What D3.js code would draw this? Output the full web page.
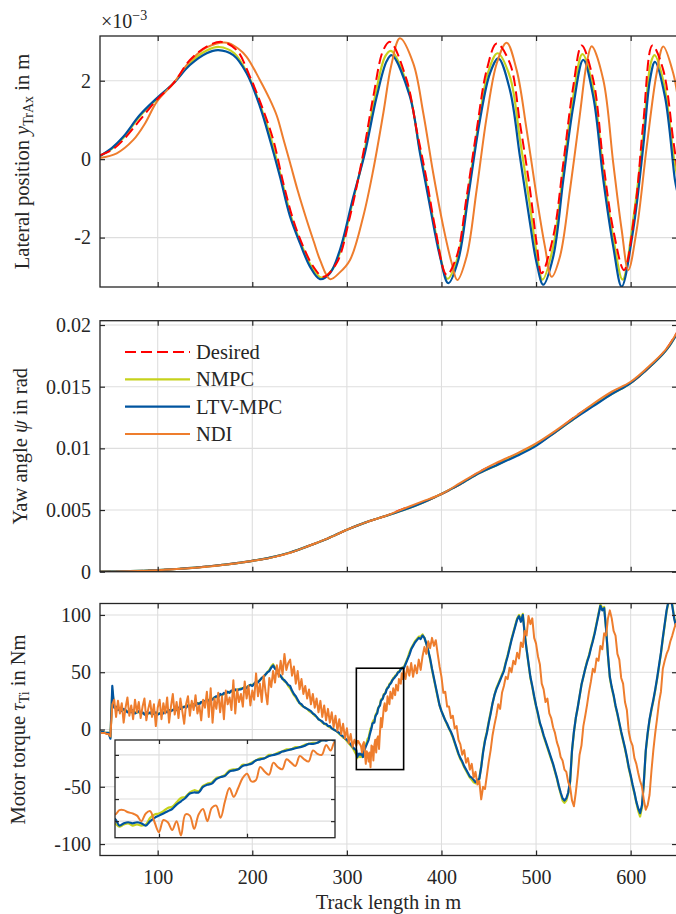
<!DOCTYPE html>
<html><head><meta charset="utf-8">
<script src="https://cdn.jsdelivr.net/npm/d3@7"></script>
<style>
body{margin:0;background:#fff}
svg{display:block}
text{font-family:"Liberation Serif","Times New Roman",serif;fill:#262626}
.tick text{font-size:20px}
</style>
</head><body>
<svg id="c" width="676" height="914"></svg>
<script>
// ---------------- DATA ----------------
const seriesNames = ["Desired", "NMPC", "LTV-MPC", "NDI"];
const xTicks = [100, 200, 300, 400, 500, 600];
const latTicks = [-2, 0, 2];
const latTickLabels = ["-2", "0", "2"];
const yawTicks = [0, 0.005, 0.01, 0.015, 0.02];
const yawTickLabels = ["0", "0.005", "0.01", "0.015", "0.02"];
const torqueTicks = [-100, -50, 0, 50, 100];
const torqueTickLabels = ["-100", "-50", "0", "50", "100"];
const insetXTicks = [320, 340];
const insetYTicks = [-20, 0, 20, 40];

// Lateral position (x1e-3 m) : [track length, value]
const latDesired = [[39,0.10],[51.4,0.23],[63.6,0.49],[81.3,1.0],[98.9,1.51],[116.5,1.93],[134.1,2.53],[151.8,2.87],[167.7,2.99],[183.5,2.78],[197.6,2.1],[211.6,1.25],[222.2,0.49],[232.8,-0.61],[243.3,-1.55],[253.9,-2.23],[264.5,-2.74],[275,-3.0],[289.2,-2.65],[303.3,-1.46],[317.3,0.15],[327.9,1.59],[338.5,2.78],[345.6,2.99],[363.2,2.02],[373.8,0.74],[384.4,-0.53],[393.1,-1.72],[405.5,-2.95],[416.1,-2.48],[426.6,-0.96],[437.2,0.74],[447.8,2.27],[458.4,2.95],[472.4,2.44],[483,0.91],[493.6,-0.78],[500.6,-2.14],[505.9,-2.91],[518.2,-1.97],[528.8,-0.1],[539.3,1.85],[548.2,2.9],[560.5,2.02],[571.1,-0.1],[581.6,-1.8],[593,-2.83],[605,-1.2],[613.3,0.91],[623,2.9],[634.5,2.27],[645,0.49],[649,-0.2]];
const latNMPC = [[39,0.08],[51.4,0.26],[63.6,0.54],[81.3,1.1],[98.9,1.53],[116.5,1.93],[134.1,2.45],[151.8,2.77],[165,2.86],[181,2.7],[195.5,2.15],[209.5,1.3],[220.3,0.49],[231,-0.52],[241.5,-1.5],[252,-2.18],[262.7,-2.74],[273,-3.02],[285,-2.8],[295,-2.2],[305,-1.2],[318.2,0.15],[329.7,1.59],[340.5,2.62],[346.5,2.76],[365,1.8],[375.5,0.45],[386,-0.87],[395.8,-2.1],[406.3,-3.05],[417,-2.52],[427.5,-0.96],[439,0.87],[449.5,2.23],[459.2,2.7],[472.4,2.1],[483,0.5],[493.6,-1.2],[500.6,-2.4],[506.8,-3.07],[518.2,-2.22],[528.8,-0.3],[539.3,1.6],[549,2.68],[560.5,1.8],[571.1,-0.3],[581.6,-2.0],[591.5,-3.07],[603.5,-1.4],[613.3,0.6],[621.3,2.45],[625.3,2.65],[635.4,1.9],[645.9,0],[649,-0.4]];
const latLTV = [[39,0.08],[51.4,0.28],[63.6,0.57],[81.3,1.13],[98.9,1.55],[116.5,1.93],[134.1,2.4],[151.8,2.7],[164,2.78],[179.9,2.65],[194,2.19],[208.1,1.34],[218.7,0.49],[229.3,-0.45],[239.9,-1.46],[250.4,-2.14],[261,-2.74],[271.6,-3.06],[282.1,-2.91],[292.7,-2.31],[306.8,-0.96],[319,0.15],[331.5,1.59],[342.1,2.5],[347.4,2.65],[366.7,1.59],[377.3,0.15],[387.9,-1.21],[398.4,-2.48],[407.2,-3.16],[417.8,-2.57],[428.3,-0.96],[440.7,1.0],[451.3,2.19],[460.1,2.57],[472.4,1.76],[483,0.06],[493.6,-1.63],[500.6,-2.65],[507.6,-3.2],[518.2,-2.48],[528.8,-0.53],[539.3,1.34],[549.9,2.53],[560.5,1.59],[571.1,-0.53],[581.6,-2.23],[590.5,-3.25],[602.7,-1.8],[613.3,0.32],[620.4,2.02],[625.7,2.48],[636.3,1.59],[646.8,-0.53],[649,-0.8]];
const latNDI = [[39,0.03],[56.7,0.15],[74.2,0.49],[86.6,0.91],[99,1.46],[116.5,1.93],[134.1,2.5],[151.8,2.85],[173,2.97],[185,2.82],[194,2.61],[208,2.02],[218,1.55],[226,1.1],[233,0.5],[240,-0.1],[248,-0.8],[257.5,-1.55],[265,-2.1],[271.6,-2.57],[282.1,-3.06],[292,-2.9],[303.3,-2.57],[317.3,-1.46],[327.9,-0.27],[338.5,1.17],[347,2.4],[356.1,3.08],[370.2,2.44],[380.8,1.17],[391.3,-0.36],[401.9,-1.72],[410.8,-2.65],[416.7,-3.08],[426.6,-2.48],[437.2,-0.78],[447.8,1.08],[458.4,2.44],[468.9,2.97],[479.5,2.27],[490.1,0.74],[500.6,-0.96],[509.4,-2.23],[516.5,-3.0],[525.3,-2.48],[535.9,-0.78],[546.5,1.17],[553.5,2.44],[558.8,2.88],[571.1,2.02],[581.6,-0.1],[590.5,-1.8],[597.5,-2.83],[606.4,-1.8],[617,0.32],[627.5,2.19],[634.5,2.87],[645,2.19],[649,1.7]];

// Yaw angle (rad)
const yawX = [39,60,80,100,120,140,160,180,200,220,240,260,280,300,320,340,360,380,400,420,440,460,480,500,520,540,560,580,600,620,640,649];
const yawDesired = [0,0.00002,0.00006,0.00013,0.00022,0.00033,0.00048,0.00066,0.00088,0.00115,0.00155,0.0021,0.0027,0.0034,0.0040,0.0045,0.0051,0.0056,0.0063,0.0071,0.0081,0.0088,0.0095,0.0103,0.0113,0.0125,0.0135,0.0145,0.0153,0.0166,0.0183,0.0194];
const yawNMPC = [0,0.00002,0.00006,0.00013,0.00022,0.00033,0.00048,0.00066,0.00088,0.00116,0.00156,0.0021,0.0027,0.0034,0.0040,0.0045,0.0050,0.0056,0.0063,0.0071,0.0080,0.0087,0.0095,0.0103,0.0113,0.0124,0.0135,0.0144,0.0153,0.0166,0.0182,0.0193];
const yawLTV = [0,0.00002,0.00006,0.00013,0.00022,0.00033,0.00048,0.00066,0.00088,0.00116,0.00156,0.0021,0.0027,0.0034,0.0040,0.0045,0.0050,0.0056,0.0063,0.0071,0.0080,0.0087,0.0094,0.0102,0.0113,0.0124,0.0134,0.0144,0.0153,0.0166,0.0182,0.0193];
const yawNDI = [0,0.00001,0.00005,0.00012,0.00021,0.00032,0.00047,0.00065,0.00087,0.00114,0.00154,0.0021,0.0027,0.0034,0.0040,0.0045,0.0051,0.0057,0.0063,0.0072,0.0081,0.0089,0.0096,0.0104,0.0114,0.0125,0.0136,0.0146,0.0154,0.0167,0.0183,0.0194];

// Motor torque (Nm) sampled on: 40..308 step 2, 310..359 step 1, 360..648 step 2
const torqueX = [...d3.range(40, 310, 2), ...d3.range(310, 360, 1), ...d3.range(360, 649, 2)];
const torqueNMPC = [
-2,-2,-3,-3,-3,-7,34,20,19,18,
17,17,17,16,16,15,16,16,15,15,
15,15,14,14,14,14,14,14,14,14,
14,14,15,15,15,16,16,17,17,18,
18,18,19,19,20,20,21,21,22,22,
22,23,23,24,24,25,25,26,26,27,
28,28,29,30,30,31,32,32,33,33,
34,34,35,35,36,36,37,37,38,39,
39,40,41,42,43,45,46,48,50,52,
55,57,54,52,49,46,45,42,41,38,
36,33,30,28,25,23,21,20,19,18,
16,15,14,12,11,9,8,6,5,4,
3,2,1,0,-1,-2,-4,-5,-7,-8,
-10,-12,-14,-16,-19,
-22,-25,-23,-22,-24,-23,-24,-23,-17,-14,
-13,-11,-8,-7,-3,1,2,6,8,7,
12,14,15,19,20,22,26,27,27,31,
31,33,35,37,37,40,40,42,43,45,
45,47,47,49,50,51,51,53,54,54,
54,58,62,67,71,74,77,79,81,81,
83,80,75,69,61,52,44,36,28,21,
16,12,8,4,1,-3,-7,-12,-17,-22,
-26,-29,-33,-36,-39,-42,-44,-46,-47,-45,
-43,-32,-19,-9,-2,7,15,23,30,36,
40,44,48,52,59,65,72,79,85,91,
97,100,96,101,84,70,57,45,37,28,
20,13,5,0,-6,-11,-16,-21,-26,-31,
-37,-43,-50,-56,-62,-64,-62,-56,-46,-19,
-3,10,19,29,39,46,53,60,65,72,
78,85,93,101,109,106,107,88,64,45,
36,29,20,13,5,-3,-10,-17,-25,-34,
-41,-49,-56,-64,-71,-76,-68,-46,-19,-4,
8,17,25,34,44,55,66,79,91,103,
111,116,109,98,91];
const torqueLTV = [
-2,-2,-3,-3,-3,-8,38,19,20,17,
18,16,18,17,15,16,15,17,14,15,
16,14,15,13,15,14,15,13,14,15,
13,14,15,14,16,15,17,16,17,18,
17,19,18,19,20,19,21,20,21,22,
21,23,22,24,23,25,26,25,27,26,
28,29,28,31,30,32,31,33,32,34,
33,35,34,35,35,36,37,36,38,39,
38,40,42,41,43,45,46,48,50,51,
54,56,53,52,48,47,44,43,41,39,
38,34,31,29,26,23,22,20,19,18,
17,16,14,13,11,9,8,7,5,5,
3,3,1,0,-1,-2,-3,-5,-6,-8,
-9,-11,-13,-15,-17,
-18,-24,-22,-21,-22,-21,-22,-24,-20,-17,
-15,-13,-11,-9,-5,-2,1,5,6,6,
11,13,14,18,20,21,25,26,27,30,
31,32,35,36,37,39,40,41,43,44,
45,46,47,48,50,50,51,53,53,54,
53,57,61,65,70,73,76,78,80,79,
82,80,75,69,62,53,45,37,29,21,
16,12,8,5,1,-2,-6,-11,-16,-21,
-25,-28,-32,-35,-38,-41,-42,-44,-46,-44,
-43,-33,-20,-10,-3,6,14,23,30,35,
39,43,47,51,58,64,71,78,84,90,
96,99,94,100,83,70,58,46,38,29,
21,14,6,1,-5,-10,-15,-20,-25,-30,
-36,-42,-49,-55,-60,-62,-60,-55,-45,-18,
-2,10,19,29,39,46,53,59,64,71,
77,84,92,100,108,104,106,88,65,46,
37,30,21,14,6,-2,-9,-16,-24,-33,
-40,-48,-55,-63,-69,-73,-66,-45,-18,-3,
9,18,26,35,45,56,67,80,92,104,
112,116,108,97,90];
const torqueNDI = [
-3,-3,-3,-4,-4,-6,22,26,11,25,
14,23,6,19,28,12,21,9,26,15,
24,10,20,27,8,18,25,11,22,3,
19,26,9,23,14,28,6,20,31,13,
24,10,27,16,5,22,29,12,25,17,
30,14,21,8,26,19,33,11,36,6,
27,18,32,15,29,9,34,22,28,17,
43,14,35,24,31,20,42,27,38,21,
34,26,49,29,40,24,47,33,22,45,
37,51,41,56,46,60,48,66,52,58,
61,47,55,40,51,35,44,31,38,27,
35,22,31,19,27,15,25,11,21,8,
18,6,15,2,12,-1,9,-4,5,-8,
1,-12,-4,-15,-9,
-14,-10,-10,-12,-13,-15,-20,-13,-11,-21,
-30,-19,-21,-28,-20,-33,-14,-15,-27,-14,
-9,-20,-8,-6,-17,-2,10,2,10,19,
23,16,17,29,25,22,33,29,27,36,
33,30,39,36,34,44,41,40,49,44,
52,44,55,47,58,46,56,49,61,52,
64,72,66,77,71,80,73,78,66,55,
46,32,33,20,20,10,12,1,3,-9,
-13,-22,-18,-29,-25,-35,-30,-42,-37,-48,
-45,-61,-50,-52,-40,-28,-18,-5,4,12,
22,18,32,38,46,44,54,50,60,57,
67,62,76,72,86,82,99,92,97,80,
75,64,57,40,35,24,27,14,10,2,
-3,-11,-16,-24,-27,-35,-37,-46,-50,-62,
-67,-55,-40,-22,-14,3,12,22,33,42,
53,50,62,60,73,70,84,82,97,104,
97,86,82,66,61,45,40,24,17,-2,
-10,-14,-25,-30,-38,-45,-50,-62,-70,-66,
-57,-36,-18,-3,10,24,33,53,60,66,
70,77,82,88,93];

// zoom window of the inset
const zoomX = [310, 360];
const zoomY = [-35, 53.5];

// ---------------- STYLE ----------------
const colors = {"Desired": "#ff0000", "NMPC": "#c6d21c", "LTV-MPC": "#00549f", "NDI": "#ee7d2d"};
const widths = {"Desired": 2, "NMPC": 2.2, "LTV-MPC": 2.2, "NDI": 2};
const DASH = "11,5";
const AX = "#262626", GRID = "#dedede";

const svg = d3.select("#c");
const x = d3.scaleLinear().domain([39, 649]).range([100, 677]);

const panels = [
  {top: 36, bottom: 287, domain: [-3.26, 3.14], ticks: latTicks, fmt: (d, i) => latTickLabels[i], labelX: 29},
  {top: 320.7, bottom: 571.7, domain: [0, 0.02035], ticks: yawTicks, fmt: (d, i) => yawTickLabels[i], labelX: 27},
  {top: 603.5, bottom: 855.5, domain: [-110, 110], ticks: torqueTicks, fmt: (d, i) => torqueTickLabels[i], labelX: 25}
];
panels.forEach(p => p.y = d3.scaleLinear().domain(p.domain).range([p.bottom, p.top]));

function frame(g, xs, ys, xt, yt) {
  const [x0, x1] = xs.range(), [y0, y1] = ys.range();
  g.append("g").selectAll("line").data(xt).join("line")
    .attr("x1", d => xs(d)).attr("x2", d => xs(d)).attr("y1", y1).attr("y2", y0)
    .attr("stroke", GRID).attr("stroke-width", 1.1);
  g.append("g").selectAll("line").data(yt).join("line")
    .attr("x1", x0).attr("x2", x1).attr("y1", d => ys(d)).attr("y2", d => ys(d))
    .attr("stroke", GRID).attr("stroke-width", 1.1);
}
function axes(g, xs, ys, xt, yt, opts) {
  const [x0, x1] = xs.range(), [y0, y1] = ys.range();
  const tl = opts.tick || 5;
  const mk = (axis, tr, labels, fmt, pad) => {
    const a = g.append("g").attr("transform", tr).attr("color", AX)
      .call(axis.tickSizeInner(-tl).tickSizeOuter(0).tickPadding(pad || 3)
        .tickFormat(labels ? fmt : () => ""));
    a.select(".domain").remove();
    a.selectAll(".tick line").attr("stroke-width", 1.2);
    a.attr("font-family", null).attr("font-size", null);
    return a;
  };
  mk(d3.axisLeft(ys).tickValues(yt), `translate(${x0},0)`, opts.yLabels, opts.yFmt, 9);
  mk(d3.axisRight(ys).tickValues(yt), `translate(${x1},0)`, false);
  mk(d3.axisBottom(xs).tickValues(xt), `translate(0,${y0})`, opts.xLabels, d => String(d), 14);
  mk(d3.axisTop(xs).tickValues(xt), `translate(0,${y1})`, false);
  g.append("rect").attr("x", x0).attr("y", y1).attr("width", x1 - x0).attr("height", y0 - y1)
    .attr("fill", "none").attr("stroke", AX).attr("stroke-width", 1.3);
}

function clip(id, x0, y0, w, h) {
  svg.append("clipPath").attr("id", id).append("rect")
    .attr("x", x0).attr("y", y0).attr("width", w).attr("height", h);
}

function drawLine(g, data, name, xs, ys, curve, clipId) {
  const line = d3.line().x(d => xs(d[0])).y(d => ys(d[1])).curve(curve);
  const p = g.append("path").datum(data).attr("d", line)
    .attr("fill", "none").attr("stroke", colors[name]).attr("stroke-width", widths[name])
    .attr("stroke-linejoin", "round").attr("stroke-linecap", "butt")
    .attr("clip-path", `url(#${clipId})`);
  if (name === "Desired") p.attr("stroke-dasharray", DASH);
  return p;
}

const zip = (xs, ys) => xs.map((v, i) => [v, ys[i]]).filter(d => d[1] !== undefined);

// ---------- Panel 1: lateral position ----------
{
  const p = panels[0], g = svg.append("g");
  frame(g, x, p.y, xTicks, p.ticks);
  clip("c1", 100, p.top, 577, p.bottom - p.top);
  const cv = d3.curveCatmullRom.alpha(0.5);
  drawLine(g, latNMPC, "NMPC", x, p.y, cv, "c1");
  drawLine(g, latLTV, "LTV-MPC", x, p.y, cv, "c1");
  drawLine(g, latNDI, "NDI", x, p.y, cv, "c1");
  drawLine(g, latDesired, "Desired", x, p.y, cv, "c1");
  axes(g, x, p.y, xTicks, p.ticks, {yLabels: true, yFmt: p.fmt});
  const t = g.append("text").attr("x", 101).attr("y", 28).attr("font-size", 20);
  t.append("tspan").text("×10");
  t.append("tspan").attr("dy", -8).attr("font-size", 14).text("−3");
}
// ---------- Panel 2: yaw ----------
{
  const p = panels[1], g = svg.append("g");
  frame(g, x, p.y, xTicks, p.ticks);
  clip("c2", 100, p.top, 577, p.bottom - p.top);
  const cv = d3.curveMonotoneX;
  drawLine(g, zip(yawX, yawDesired), "Desired", x, p.y, cv, "c2");
  drawLine(g, zip(yawX, yawNMPC), "NMPC", x, p.y, cv, "c2");
  drawLine(g, zip(yawX, yawLTV), "LTV-MPC", x, p.y, cv, "c2");
  drawLine(g, zip(yawX, yawNDI), "NDI", x, p.y, cv, "c2");
  axes(g, x, p.y, xTicks, p.ticks, {yLabels: true, yFmt: p.fmt});
  const lg = g.append("g");
  seriesNames.forEach((n, i) => {
    const yy = 352 + i * 27.3;
    const l = lg.append("line").attr("x1", 125).attr("x2", 190).attr("y1", yy).attr("y2", yy)
      .attr("stroke", colors[n]).attr("stroke-width", widths[n]);
    if (n === "Desired") l.attr("stroke-dasharray", DASH);
    lg.append("text").attr("x", 196).attr("y", yy + 7).attr("font-size", 20.5).text(n);
  });
}
// ---------- Panel 3: torque ----------
{
  const p = panels[2], g = svg.append("g");
  frame(g, x, p.y, xTicks, p.ticks);
  clip("c3", 100, p.top, 577, p.bottom - p.top);
  const cv = d3.curveLinear;
  const dN = zip(torqueX, torqueNMPC), dL = zip(torqueX, torqueLTV), dD = zip(torqueX, torqueNDI);
  drawLine(g, dN, "NMPC", x, p.y, cv, "c3");
  drawLine(g, dL, "LTV-MPC", x, p.y, cv, "c3");
  drawLine(g, dD, "NDI", x, p.y, cv, "c3");
  axes(g, x, p.y, xTicks, p.ticks, {yLabels: true, yFmt: p.fmt, xLabels: true});
  g.append("rect").attr("x", x(zoomX[0])).attr("y", p.y(zoomY[1]))
    .attr("width", x(zoomX[1]) - x(zoomX[0])).attr("height", p.y(zoomY[0]) - p.y(zoomY[1]))
    .attr("fill", "none").attr("stroke", "#000").attr("stroke-width", 1.6);
  const ix = d3.scaleLinear().domain(zoomX).range([115, 335]);
  const iy = d3.scaleLinear().domain(zoomY).range([837.7, 740]);
  const ig = svg.append("g");
  ig.append("rect").attr("x", 115).attr("y", 740).attr("width", 220).attr("height", 97.7).attr("fill", "#fff");
  frame(ig, ix, iy, insetXTicks, insetYTicks);
  clip("ci", 115, 740, 220, 97.7);
  const icv = d3.curveCatmullRom.alpha(0.5);
  const inWin = d => d.filter(q => q[0] >= zoomX[0] - 4 && q[0] <= zoomX[1] + 4);
  drawLine(ig, inWin(dN), "NMPC", ix, iy, icv, "ci");
  drawLine(ig, inWin(dL), "LTV-MPC", ix, iy, icv, "ci");
  drawLine(ig, inWin(dD), "NDI", ix, iy, icv, "ci");
  axes(ig, ix, iy, insetXTicks, insetYTicks, {tick: 4});
}

// ---------- axis labels ----------
function ylabel(xp, yp, parts) {
  const t = svg.append("text").attr("transform", `translate(${xp},${yp}) rotate(-90)`)
    .attr("text-anchor", "middle").attr("font-size", 20.5);
  parts.forEach(pt => {
    const s = t.append("tspan").text(pt.t);
    if (pt.i) s.attr("font-style", "italic");
    if (pt.sub) s.attr("font-size", 14).attr("dy", 4);
    if (pt.after) s.attr("dy", -4);
  });
}
ylabel(panels[0].labelX, (panels[0].top + panels[0].bottom) / 2,
  [{t: "Lateral position "}, {t: "y", i: true}, {t: "TrAx", sub: true}, {t: " in m", after: true}]);
ylabel(panels[1].labelX, (panels[1].top + panels[1].bottom) / 2,
  [{t: "Yaw angle "}, {t: "ψ", i: true}, {t: " in rad"}]);
ylabel(panels[2].labelX, (panels[2].top + panels[2].bottom) / 2,
  [{t: "Motor torque "}, {t: "τ", i: true}, {t: "Ti", sub: true}, {t: " in Nm", after: true}]);
svg.append("text").attr("x", 388.5).attr("y", 909).attr("text-anchor", "middle")
  .attr("font-size", 20.5).text("Track length in m");
</script>
</body></html>
